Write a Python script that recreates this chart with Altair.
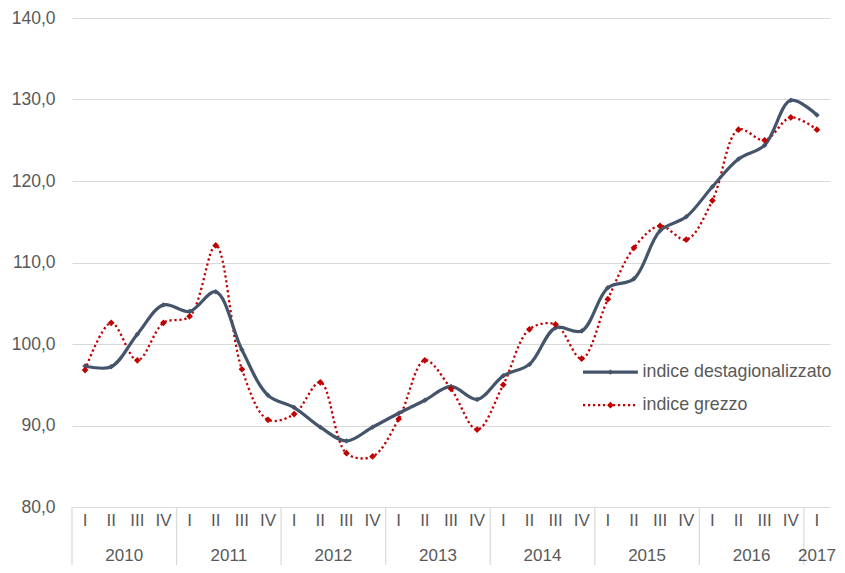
import altair as alt
import pandas as pd

years = ["2010", "2011", "2012", "2013", "2014", "2015", "2016", "2017"]
quarters = ["I", "II", "III", "IV"]

destag = [97.3, 97.2, 101.2, 104.8, 104.0, 106.4, 99.3, 93.7,
          92.2, 89.8, 88.1, 89.8, 91.5, 93.1, 94.8, 93.2,
          96.1, 97.5, 102.0, 101.6, 106.9, 108.0, 113.9, 115.6,
          119.3, 122.7, 124.4, 129.9, 128.1]
grezzo = [96.8, 102.6, 98.0, 102.6, 103.4, 112.1, 96.9, 90.7,
          91.4, 95.3, 86.6, 86.2, 90.8, 98.0, 94.5, 89.5,
          95.0, 101.8, 102.4, 98.2, 105.5, 111.8, 114.5, 112.8,
          117.6, 126.3, 125.0, 127.8, 126.3]
legend_labels = ["indice destagionalizzato", "indice grezzo"]

n = len(destag)
q_labels = [quarters[i % 4] for i in range(n)]
df = pd.DataFrame({"idx": list(range(n)), "destag": destag, "grezzo": grezzo, "q": q_labels})

year_df = pd.DataFrame({
    "year": years,
    "pos": [min(4 * i + 1.5, n - 1) for i in range(len(years))],
})
sep_df = pd.DataFrame({"pos": [-0.5] + [4 * i + 3.5 for i in range(7)]})

# legend placed in data coordinates
leg_df = pd.DataFrame({
    "lab": legend_labels,
    "x0": [19.05, 19.05],
    "x1": [21.15, 21.15],
    "xm": [20.1, 20.1],
    "xt": [21.33, 21.33],
    "y": [96.55, 92.5],
})

W, H = 758, 489
FONT = "Liberation Sans"
GREY = "#595959"
DARK = "#44546A"
RED = "#C00000"

xscale = alt.Scale(domain=[-0.5, n - 0.5], nice=False, zero=False)
yscale = alt.Scale(domain=[80, 140], nice=False, zero=False)

X = alt.X("idx:Q", scale=xscale, axis=None)

base = alt.Chart(df)

grid = base.mark_line(opacity=0).encode(
    x=X,
    y=alt.Y("destag:Q", scale=yscale, title=None,
            axis=alt.Axis(values=[80, 90, 100, 110, 120, 130, 140],
                          labelExpr="replace(format(datum.value, '.1f'), '.', ',')",
                          grid=True, gridColor="#d9d9d9", gridWidth=1.2,
                          domain=False, ticks=False, labelPadding=17,
                          labelFont=FONT, labelFontSize=17.5, labelColor=GREY)),
)

line_d = base.mark_line(color=DARK, strokeWidth=3.2, interpolate="catmull-rom").encode(
    x=X, y=alt.Y("destag:Q", scale=yscale))
pts_d = base.mark_point(shape="diamond", filled=True, color=DARK, size=30, opacity=1).encode(
    x=X, y=alt.Y("destag:Q", scale=yscale))

line_g = base.mark_line(color=RED, strokeWidth=2.3, strokeDash=[2.2, 2.8],
                        interpolate="catmull-rom").encode(
    x=X, y=alt.Y("grezzo:Q", scale=yscale))
pts_g = base.mark_point(shape="diamond", filled=True, color=RED, size=45, opacity=1).encode(
    x=X, y=alt.Y("grezzo:Q", scale=yscale))

seps = alt.Chart(sep_df).mark_rule(color="#d9d9d9", strokeWidth=1.2).encode(
    x=alt.X("pos:Q", scale=xscale, axis=None), y=alt.value(H), y2=alt.value(H + 60))

q_text = base.mark_text(font=FONT, fontSize=17, color=GREY, baseline="middle").encode(
    x=X, y=alt.value(H + 14), text="q:N")

y_text = alt.Chart(year_df).mark_text(font=FONT, fontSize=17, color=GREY, baseline="alphabetic").encode(
    x=alt.X("pos:Q", scale=xscale, axis=None), y=alt.value(H + 54), text="year:N")

leg = alt.Chart(leg_df)
LX0 = alt.X("x0:Q", scale=xscale, axis=None)
LY = alt.Y("y:Q", scale=yscale)
leg_l1 = leg.transform_filter(alt.datum.lab == legend_labels[0]).mark_rule(
    color=DARK, strokeWidth=3.2).encode(x=LX0, x2="x1:Q", y=LY)
leg_l2 = leg.transform_filter(alt.datum.lab == legend_labels[1]).mark_rule(
    color=RED, strokeWidth=2.3, strokeDash=[2.2, 2.8]).encode(x=LX0, x2="x1:Q", y=LY)
leg_p1 = leg.transform_filter(alt.datum.lab == legend_labels[0]).mark_point(
    shape="diamond", filled=True, color=DARK, size=30, opacity=1).encode(
    x=alt.X("xm:Q", scale=xscale, axis=None), y=LY)
leg_p2 = leg.transform_filter(alt.datum.lab == legend_labels[1]).mark_point(
    shape="diamond", filled=True, color=RED, size=45, opacity=1).encode(
    x=alt.X("xm:Q", scale=xscale, axis=None), y=LY)
leg_t = leg.mark_text(font=FONT, fontSize=17.8, color=GREY, align="left", baseline="middle").encode(
    x=alt.X("xt:Q", scale=xscale, axis=None), y=LY, text="lab:N")

chart = alt.layer(
    grid, seps, q_text, y_text,
    line_g, line_d, pts_d, pts_g,
    leg_l1, leg_p1, leg_l2, leg_p2, leg_t,
).properties(
    width=W, height=H,
    autosize=alt.AutoSizeParams(type="none"),
    padding={"left": 64, "top": 10, "right": 7, "bottom": 58},
).configure_view(stroke=None)

chart.save("out.html", embed_options={"renderer": "svg", "actions": False})
